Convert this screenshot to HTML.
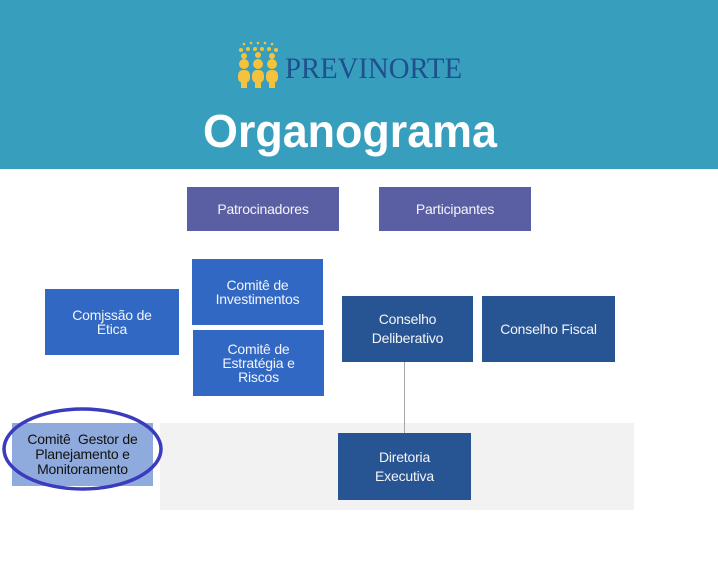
<!DOCTYPE html>
<html><head><meta charset="utf-8"><style>
body{margin:0;width:718px;height:566px;background:#fff;position:relative;overflow:hidden;font-family:"Liberation Sans",sans-serif}
.hdr{position:absolute;left:0;top:0;width:718px;height:169px;background:#379fbd}
.b{position:absolute;display:flex;align-items:center;justify-content:center;text-align:center;color:#f4f4f8;font-size:14px;line-height:14px;letter-spacing:-0.2px}
.p{background:#5a5fa3}
.m{background:#3068c4}
.d{background:#275593}
</style></head><body>
<div class="hdr"></div>
<svg style="position:absolute;left:0;top:0" width="718" height="169">
<g fill="#f4c23c">
<circle cx="244" cy="44" r="1.3"/><circle cx="251" cy="43" r="1.3"/><circle cx="258" cy="43" r="1.3"/><circle cx="265" cy="43" r="1.3"/><circle cx="272" cy="44" r="1.3"/>
<circle cx="241" cy="50" r="2"/><circle cx="248" cy="49" r="2"/><circle cx="255" cy="49" r="2"/><circle cx="262" cy="49" r="2"/><circle cx="269" cy="49" r="2"/><circle cx="276" cy="50" r="2"/>
<circle cx="244" cy="56" r="3"/><circle cx="258" cy="55" r="3"/><circle cx="272" cy="56" r="3"/>
<circle cx="244" cy="64" r="5"/><circle cx="258" cy="64" r="5"/><circle cx="272" cy="64" r="5"/>
<rect x="238" y="70" width="12" height="13" rx="5"/><rect x="252" y="70" width="12" height="13" rx="5"/><rect x="266" y="70" width="12" height="13" rx="5"/>
<rect x="241" y="78" width="6" height="10"/><rect x="255" y="78" width="6" height="10"/><rect x="269" y="78" width="6" height="10"/>
</g>
<text x="285" y="78" font-family="Liberation Serif,serif" font-size="30" fill="#1f4f8e" textLength="177" lengthAdjust="spacingAndGlyphs">PREVINORTE</text>
<text x="203" y="147" font-family="Liberation Sans,sans-serif" font-weight="bold" font-size="46" fill="#fff" textLength="294" lengthAdjust="spacingAndGlyphs">Organograma</text>
</svg>
<div class="b p" style="left:187px;top:187px;width:152px;height:44px">Patrocinadores</div>
<div class="b p" style="left:379px;top:187px;width:152px;height:44px">Participantes</div>
<div class="b m" style="left:45px;top:289px;width:134px;height:66px">Comjssão de<br>Ética</div>
<div class="b m" style="left:192px;top:259px;width:131px;height:66px">Comitê de<br>Investimentos</div>
<div class="b m" style="left:193px;top:330px;width:131px;height:66px">Comitê de<br>Estratégia e<br>Riscos</div>
<div style="position:absolute;left:160px;top:423px;width:474px;height:87px;background:#f2f2f2"></div>
<div style="position:absolute;left:404px;top:362px;width:1px;height:71px;background:#a6a6a6"></div>
<div class="b d" style="left:342px;top:296px;width:131px;height:66px;line-height:19px">Conselho<br>Deliberativo</div>
<div class="b d" style="left:482px;top:296px;width:133px;height:66px">Conselho Fiscal</div>
<div class="b d" style="left:338px;top:433px;width:133px;height:67px;line-height:19px">Diretoria<br>Executiva</div>
<div class="b" style="left:12px;top:423px;width:141px;height:63px;background:#8faadc;color:#111;line-height:15px">Comitê&nbsp; Gestor de<br>Planejamento e<br>Monitoramento</div>
<svg style="position:absolute;left:0;top:400px" width="180" height="100"><ellipse cx="82.5" cy="49" rx="78.5" ry="40" fill="none" stroke="#3a3bbd" stroke-width="3.5"/></svg>
</body></html>
